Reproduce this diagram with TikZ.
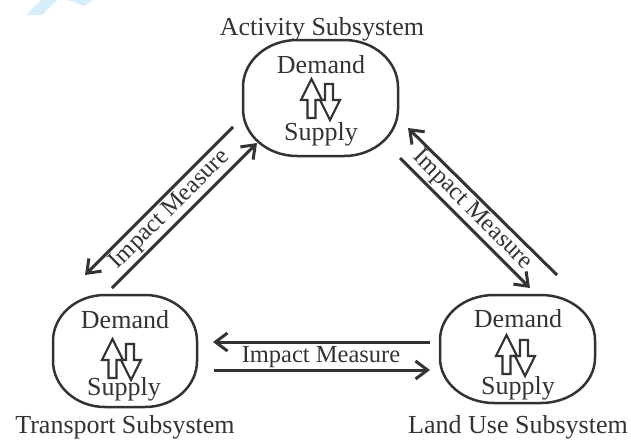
\documentclass[tikz,border=0pt]{standalone}
\usepackage{fontspec}
\setmainfont{Liberation Serif}
\usetikzlibrary{arrows.meta}
\definecolor{ink}{HTML}{333333}
\definecolor{wmark}{HTML}{D6EEFA}

% outline of a subsystem: half width, half height, corner radii x and y
\newcommand{\ovalpath}[4]{(-#1+#3,#2) -- (#1-#3,#2)
  arc[start angle=90,end angle=0,x radius=#3,y radius=#4] -- (#1,-#2+#4)
  arc[start angle=0,end angle=-90,x radius=#3,y radius=#4] -- (-#1+#3,-#2)
  arc[start angle=270,end angle=180,x radius=#3,y radius=#4] -- (-#1,#2-#4)
  arc[start angle=180,end angle=90,x radius=#3,y radius=#4] -- cycle}

\tikzset{
  subsys/.style={inner sep=0pt},
  outline/.style={draw=ink, line width=2.5pt},
  lbl/.style={text=ink, font=\fontsize{26}{30}\selectfont, inner sep=0pt, anchor=base},
  imp/.style={text=ink, font=\fontsize{24.5}{28}\selectfont, inner sep=0pt},
  flow/.style={draw=ink, line width=3pt,
    -{Straight Barb[length=12pt,width=18pt,line width=3pt]}},
  blk/.style={draw=ink, line width=2.2pt, line join=miter, fill=white},
  pics/updown/.style={code={
    % upward block arrow
    \draw[blk] (-10.5,-21) -- (0,0) -- (-6.5,0) -- (-6.5,18)
      -- (-14.5,18) -- (-14.5,0) -- (-21,0) -- cycle;
    % downward block arrow
    \draw[blk] (3,-16) -- (11,-16) -- (11,0) -- (18,0) -- (8,20)
      -- (-2,0) -- (3,0) -- cycle;
  }}
}

\begin{document}
\begin{tikzpicture}[x=1pt,y=-1pt]
\useasboundingbox (0,0) rectangle (631,442);

% faint mark in the top-left corner
\fill[wmark] (26,15) -- (42,15) -- (57,0) -- (41,0) -- cycle;
\fill[wmark] (68,0) -- (93,0) -- (84,6) -- cycle;

% the three subsystems
\node[subsys, minimum width=155pt, minimum height=116pt] (act) at (320.5,98) {};
\node[subsys, minimum width=144pt, minimum height=112pt] (trn) at (125,351) {};
\node[subsys, minimum width=155pt, minimum height=108pt] (lnd) at (517.5,349) {};

\begin{scope}[shift={(act.center)}, y=1pt]
  \draw[outline] \ovalpath{77.5}{58}{54}{47};
\end{scope}
\begin{scope}[shift={(trn.center)}, y=1pt]
  \draw[outline] \ovalpath{72}{56}{52}{46};
\end{scope}
\begin{scope}[shift={(lnd.center)}, y=1pt]
  \draw[outline] \ovalpath{77.5}{54}{54}{45};
\end{scope}

% contents: demand / supply
\node[lbl] (actD) at (321,73) {Demand};
\pic at (322,100) {updown};
\node[lbl] (actS) at (321,140) {Supply};

\node[lbl] (trnD) at (125,328) {Demand};
\pic at (123,360) {updown};
\node[lbl] (trnS) at (124,395) {Supply};

\node[lbl] (lndD) at (518,327) {Demand};
\pic at (517,356) {updown};
\node[lbl] (lndS) at (518,394) {Supply};

% subsystem names
\node[lbl] (actN) at (322,35) {Activity Subsystem};
\node[lbl] (trnN) at (125,433) {Transport Subsystem};
\node[lbl] (lndN) at (518,433) {Land Use Subsystem};

% end points of the impact arrows
\coordinate (l1s) at (233,127); \coordinate (l1e) at (85,275);
\coordinate (l2s) at (112,288); \coordinate (l2e) at (257,143);
\coordinate (r1s) at (557,275); \coordinate (r1e) at (408,128);
\coordinate (r2s) at (400,158); \coordinate (r2e) at (530,288);
\coordinate (h1s) at (430,342); \coordinate (h1e) at (213,342);
\coordinate (h2s) at (214,370); \coordinate (h2e) at (430,370);

\draw[flow] (l1s) -- (l1e);
\draw[flow] (l2s) -- (l2e);
\draw[flow] (r1s) -- (r1e);
\draw[flow] (r2s) -- (r2e);
\draw[flow] (h1s) -- (h1e);
\draw[flow] (h2s) -- (h2e);

\node[imp, rotate=45] (impL) at (170,210) {Impact Measure};
\node[imp, rotate=-45] (impR) at (472,210) {Impact Measure};
\node[imp, anchor=base] (impH) at (321,362) {Impact Measure};
\end{tikzpicture}
\end{document}
